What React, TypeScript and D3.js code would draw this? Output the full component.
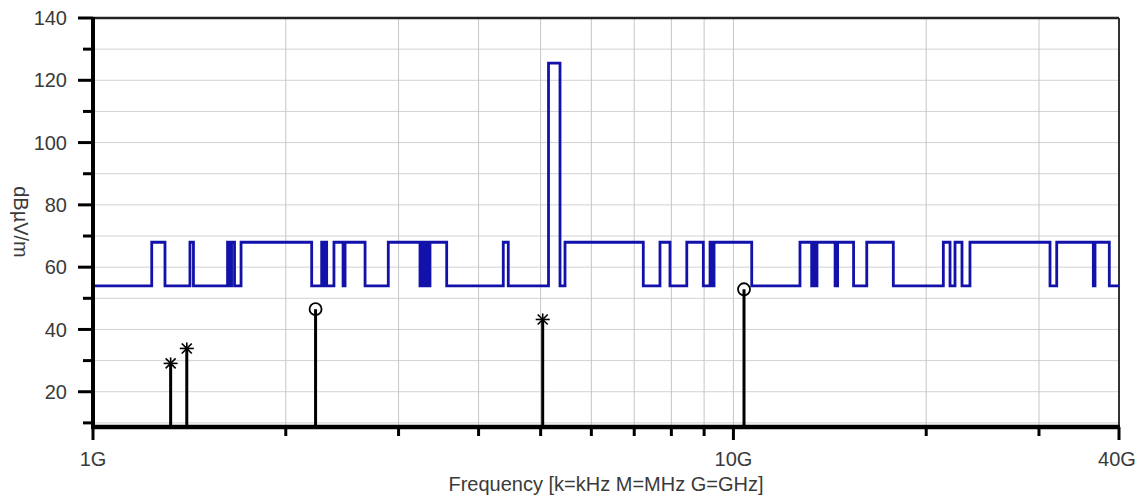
import React from "react";
import * as d3 from "d3";

const W = 1143;
const H = 502;

// Limit-line style step trace (frequency in GHz, level in dBµV/m); each level holds until next frequency
const stepFreqsGHz = [
  1.0, 1.2351, 1.2954, 1.417, 1.435, 1.6221, 1.6338, 1.6456, 1.6634, 1.7028,
  2.1951, 2.2754, 2.2901, 2.3025, 2.3166, 2.3781, 2.4574, 2.4751, 2.493, 2.6596,
  2.8912, 3.2403, 3.2637, 3.2872, 3.311, 3.3349, 3.3589, 3.3795, 3.5667, 4.3716,
  4.4509, 5.1436, 5.3606, 5.4579, 7.232, 7.6795, 7.9604, 8.4561, 8.9745, 9.1933,
  9.2596, 9.3267, 9.4176, 10.68, 12.703, 13.249, 13.335, 13.407, 13.504, 13.567,
  14.413, 14.544, 14.675, 15.403, 16.151, 17.769, 21.27, 21.788, 22.182, 22.746,
  23.407, 31.213, 31.974, 36.471, 36.694, 38.63,
];
const stepLevels = [
  54, 68, 54, 68, 54, 68, 54, 68, 54, 68,
  54, 68, 54, 68, 54, 68, 54, 68, 68, 54,
  68, 54, 68, 54, 68, 54, 68, 68, 54, 68,
  54, 125.5, 54, 68, 54, 68, 54, 68, 54, 68,
  54, 68, 68, 54, 68, 54, 68, 54, 68, 68,
  54, 68, 68, 54, 68, 54, 68, 54, 68, 54,
  68, 54, 68, 54, 68, 54,
];

// Measured peaks
const peakFreqsGHz = [1.322, 1.401, 2.226, 5.037, 10.388];
const peakLevels = [29.1, 33.9, 46.5, 43.2, 52.9];
const peakMarkers = ["star", "star", "circle", "star", "circle"];

// Axis ticks
const xMajorTicks = [1, 10, 40];
const xMajorLabels = ["1G", "10G", "40G"];
const xMinorTicks = [2, 3, 4, 5, 6, 7, 8, 9, 20, 30];
const yMajorTicks = [20, 40, 60, 80, 100, 120, 140];
const yMinorTicks = [10, 30, 50, 70, 90, 110, 130];
const yGridTicks = [10, 20, 30, 40, 50, 60, 70, 80, 90, 100, 110, 120, 130, 140];

const xTitle = "Frequency [k=kHz M=MHz G=GHz]";
const yTitle = "dBµV/m";

const FONT = "'Liberation Sans', Arial, sans-serif";

export default function App() {
  const left = 93;
  const right = 1119;
  const top = 18;
  const bottom = 426;

  const x = d3.scaleLog().domain([1, 40]).range([left, right]);
  const y = d3.scaleLinear().domain([9, 140]).range([bottom, top]);

  const stepPts: [number, number][] = stepFreqsGHz.map((f, i) => [f, stepLevels[i]]);
  stepPts.push([40, stepLevels[stepLevels.length - 1]]);
  const stepLine = d3
    .line<[number, number]>()
    .x((d) => x(d[0]))
    .y((d) => y(d[1]))
    .curve(d3.curveStepAfter);

  const axisY = bottom + 1;

  return (
    <svg
      width={W}
      height={H}
      style={{ position: "absolute", left: 0, top: 0, background: "#fff" }}
    >
      <rect x={0} y={0} width={W} height={H} fill="#fff" />
      {/* grid */}
      {yGridTicks.map((t) => (
        <line key={"gy" + t} x1={left} x2={right} y1={y(t)} y2={y(t)} stroke="#d2d2d2" strokeWidth={1} />
      ))}
      {[...xMinorTicks, 10].map((t) => (
        <line key={"gx" + t} x1={x(t)} x2={x(t)} y1={top} y2={bottom} stroke="#c6c6c6" strokeWidth={1} />
      ))}

      {/* frame top/right */}
      <line x1={left} x2={right} y1={top} y2={top} stroke="#222" strokeWidth={2.5} />
      <line x1={right} x2={right} y1={top} y2={axisY} stroke="#333" strokeWidth={2} />

      {/* step trace */}
      <path d={stepLine(stepPts) || ""} fill="none" stroke="#1212aa" strokeWidth={2.8} />

      {/* peaks */}
      {peakFreqsGHz.map((f, i) => {
        const px = x(f);
        const py = y(peakLevels[i]);
        return (
          <g key={"p" + i}>
            <line x1={px} x2={px} y1={axisY} y2={py} stroke="#000" strokeWidth={3} />
            {peakMarkers[i] === "circle" ? (
              <circle cx={px} cy={py} r={6} fill="none" stroke="#000" strokeWidth={1.8} />
            ) : (
              <g stroke="#000" strokeWidth={1.6}>
                <line x1={px - 7} x2={px + 7} y1={py} y2={py} />
                <line x1={px} x2={px} y1={py - 6} y2={py + 6} />
                <line x1={px - 5} x2={px + 5} y1={py - 5} y2={py + 5} />
                <line x1={px - 5} x2={px + 5} y1={py + 5} y2={py - 5} />
              </g>
            )}
          </g>
        );
      })}

      {/* axes */}
      <line x1={left} x2={left} y1={top - 1} y2={axisY + 2} stroke="#000" strokeWidth={4} />
      <line x1={left - 2} x2={right + 1} y1={axisY} y2={axisY} stroke="#000" strokeWidth={4.5} />

      {yMajorTicks.map((t) => (
        <g key={"ym" + t}>
          <line x1={left - 15} x2={left} y1={y(t)} y2={y(t)} stroke="#000" strokeWidth={3} />
          <text
            x={67}
            y={y(t)}
            dy="0.36em"
            textAnchor="end"
            fontFamily={FONT}
            fontSize={20}
            fill="#3a3a3a"
          >
            {t}
          </text>
        </g>
      ))}
      {yMinorTicks.map((t) => (
        <line key={"yn" + t} x1={left - 10} x2={left} y1={y(t)} y2={y(t)} stroke="#000" strokeWidth={3} />
      ))}

      {xMajorTicks.map((t, i) => (
        <g key={"xm" + t}>
          <line x1={x(t)} x2={x(t)} y1={axisY} y2={axisY + 13} stroke="#000" strokeWidth={3} />
          <text
            x={x(t) - (i === 2 ? 2 : 0)}
            y={466}
            textAnchor="middle"
            fontFamily={FONT}
            fontSize={20}
            fill="#3a3a3a"
          >
            {xMajorLabels[i]}
          </text>
        </g>
      ))}
      {xMinorTicks.map((t) => (
        <line key={"xn" + t} x1={x(t)} x2={x(t)} y1={axisY} y2={axisY + 9} stroke="#000" strokeWidth={3} />
      ))}

      <text
        x={(left + right) / 2}
        y={491}
        textAnchor="middle"
        fontFamily={FONT}
        fontSize={20}
        fill="#3a3a3a"
      >
        {xTitle}
      </text>
      <text
        transform={`translate(14, ${(top + bottom) / 2}) rotate(90)`}
        textAnchor="middle"
        fontFamily={FONT}
        fontSize={20}
        fill="#3a3a3a"
      >
        {yTitle}
      </text>
    </svg>
  );
}
